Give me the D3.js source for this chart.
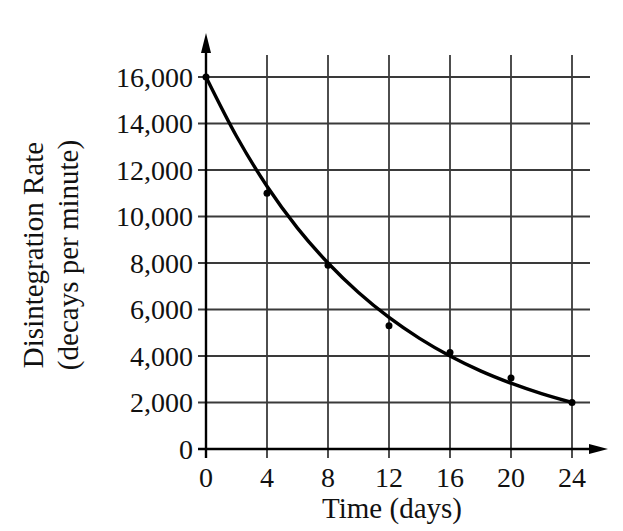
<!DOCTYPE html>
<html>
<head>
<meta charset="utf-8">
<script src="https://cdn.jsdelivr.net/npm/d3@7"></script>
<style>
  body { margin: 0; background: #fff; }
  text { font-family: "Liberation Serif", "DejaVu Serif", serif; fill: #111; }
</style>
</head>
<body>
<script>
width = 623;
height = 531;

// measured days and rates (dots)
const days = [0, 4, 8, 12, 16, 20, 24];
const rates = [16000, 11000, 7900, 5300, 4150, 3050, 2000];

// smooth curve every 2 days
const curveDays = [0, 2, 4, 6, 8, 10, 12, 14, 16, 18, 20, 22, 24];
const curveRates = [16000, 13450, 11300, 9500, 8000, 6730, 5660, 4760, 4000, 3360, 2830, 2380, 2000];

const xTicks = [0, 4, 8, 12, 16, 20, 24];
const yTicks = [0, 2000, 4000, 6000, 8000, 10000, 12000, 14000, 16000];

const svg = d3.select('body')
            .append('svg')
            .attr('width', width)
            .attr('height', height)
            .attr('viewBox', [0, 0, width, height]);

x = d3.scaleLinear().domain([0, 24]).range([206, 572]);
y = d3.scaleLinear().domain([0, 16000]).range([449, 77]);

fmt = d3.format(',');

// grid
svg.append('g')
    .selectAll('line')
    .data(xTicks.slice(1))
    .enter()
    .append('line')
    .attr('x1', d => x(d))
    .attr('x2', d => x(d))
    .attr('y1', 55)
    .attr('y2', y(0) + 9)
    .attr('stroke', '#3a3a3a')
    .attr('stroke-width', 1.8);

svg.append('g')
    .selectAll('line')
    .data(yTicks.slice(1))
    .enter()
    .append('line')
    .attr('x1', x(0) - 8)
    .attr('x2', 590)
    .attr('y1', d => y(d))
    .attr('y2', d => y(d))
    .attr('stroke', '#3a3a3a')
    .attr('stroke-width', 1.8);

// axes
svg.append('line')
    .attr('x1', x(0)).attr('x2', x(0))
    .attr('y1', y(0) + 9).attr('y2', 50)
    .attr('stroke', '#000').attr('stroke-width', 2.4);
svg.append('line')
    .attr('x1', x(0) - 8).attr('x2', 592)
    .attr('y1', y(0)).attr('y2', y(0))
    .attr('stroke', '#000').attr('stroke-width', 2.4);

svg.append('path')
    .attr('d', `M${x(0)},33 L${x(0) - 5},53 L${x(0) + 5},53 Z`)
    .attr('fill', '#000');
svg.append('path')
    .attr('d', `M608,${y(0)} L589,${y(0) - 5} L589,${y(0) + 5} Z`)
    .attr('fill', '#000');

// tick labels
svg.append('g')
    .selectAll('text')
    .data(xTicks)
    .enter()
    .append('text')
    .attr('x', d => x(d))
    .attr('y', 487)
    .attr('text-anchor', 'middle')
    .style('font-size', '28px')
    .text(d => d);

svg.append('g')
    .selectAll('text')
    .data(yTicks)
    .enter()
    .append('text')
    .attr('x', 193)
    .attr('y', d => y(d))
    .attr('dy', '0.35em')
    .attr('text-anchor', 'end')
    .style('font-size', '28px')
    .text(d => fmt(d));

// axis titles
svg.append('text')
    .attr('x', 392)
    .attr('y', 518)
    .attr('text-anchor', 'middle')
    .style('font-size', '29px')
    .text('Time (days)');

yt = svg.append('text')
    .attr('transform', 'translate(43,255) rotate(-90)')
    .attr('text-anchor', 'middle')
    .style('font-size', '29px');
yt.append('tspan').attr('x', 0).attr('y', 0).text('Disintegration Rate');
yt.append('tspan').attr('x', 0).attr('y', 35).text('(decays per minute)');

// curve
line = d3.line()
    .x((d, i) => x(curveDays[i]))
    .y(d => y(d))
    .curve(d3.curveMonotoneX);

svg.append('path')
    .datum(curveRates)
    .attr('d', line)
    .attr('fill', 'none')
    .attr('stroke', '#000')
    .attr('stroke-width', 3.4);

// dots
svg.selectAll('circle')
    .data(rates)
    .enter()
    .append('circle')
    .attr('cx', (d, i) => x(days[i]))
    .attr('cy', d => y(d))
    .attr('r', 3.5)
    .attr('fill', '#000');
</script>
</body>
</html>
